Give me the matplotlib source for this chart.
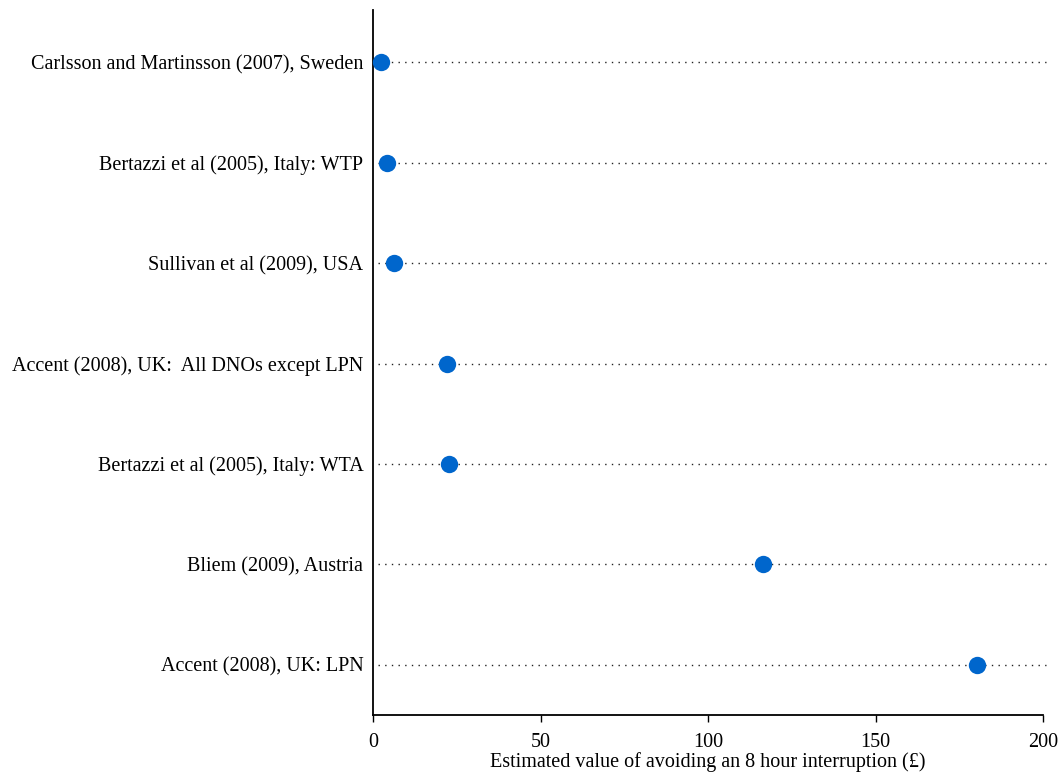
import matplotlib
matplotlib.use("Agg")
import matplotlib.pyplot as plt

studies = [
    "Carlsson and Martinsson (2007), Sweden",
    "Bertazzi et al (2005), Italy: WTP",
    "Sullivan et al (2009), USA",
    "Accent (2008), UK:  All DNOs except LPN",
    "Bertazzi et al (2005), Italy: WTA",
    "Bliem (2009), Austria",
    "Accent (2008), UK: LPN",
]
values = [2.4, 4.3, 6.3, 22.2, 22.8, 116.5, 180.3]
x_ticks = [0, 50, 100, 150, 200]

plt.rcParams["font.family"] = ["Liberation Serif", "DejaVu Serif"]

fig = plt.figure(figsize=(10.62, 7.73), dpi=100)
ax = fig.add_axes([373 / 1062, 1 - 715 / 773, 670 / 1062, 705 / 773])

ypos = list(range(len(studies)))

# dotted guide lines behind each study's point
ax.hlines(ypos, 1.5, 201, colors="#222222", linestyles=(0, (1, 3.8)),
          linewidth=1.0, clip_on=False, zorder=1)
ax.plot(values, ypos, "o", color="#0066CC", markersize=12.5,
        markeredgewidth=0, zorder=3, clip_on=False)

ax.set_xlim(0, 200)
ax.set_ylim(len(studies) - 0.5, -0.52)
ax.set_yticks(ypos)
ax.set_yticklabels(studies, fontsize=14.5)
ax.tick_params(axis="y", length=0, pad=7)
ax.set_xticks(x_ticks)
ax.set_xticklabels([str(t) for t in x_ticks], fontsize=14.5)
ax.tick_params(axis="x", direction="out", length=5, width=1, pad=8, color="black")
ax.set_xlabel("Estimated value of avoiding an 8 hour interruption (£)",
              fontsize=14.5, labelpad=0)

for side in ("top", "right"):
    ax.spines[side].set_visible(False)
for side in ("left", "bottom"):
    ax.spines[side].set_linewidth(1.3)
    ax.spines[side].set_color("black")

fig.savefig("out.png", dpi=100)
